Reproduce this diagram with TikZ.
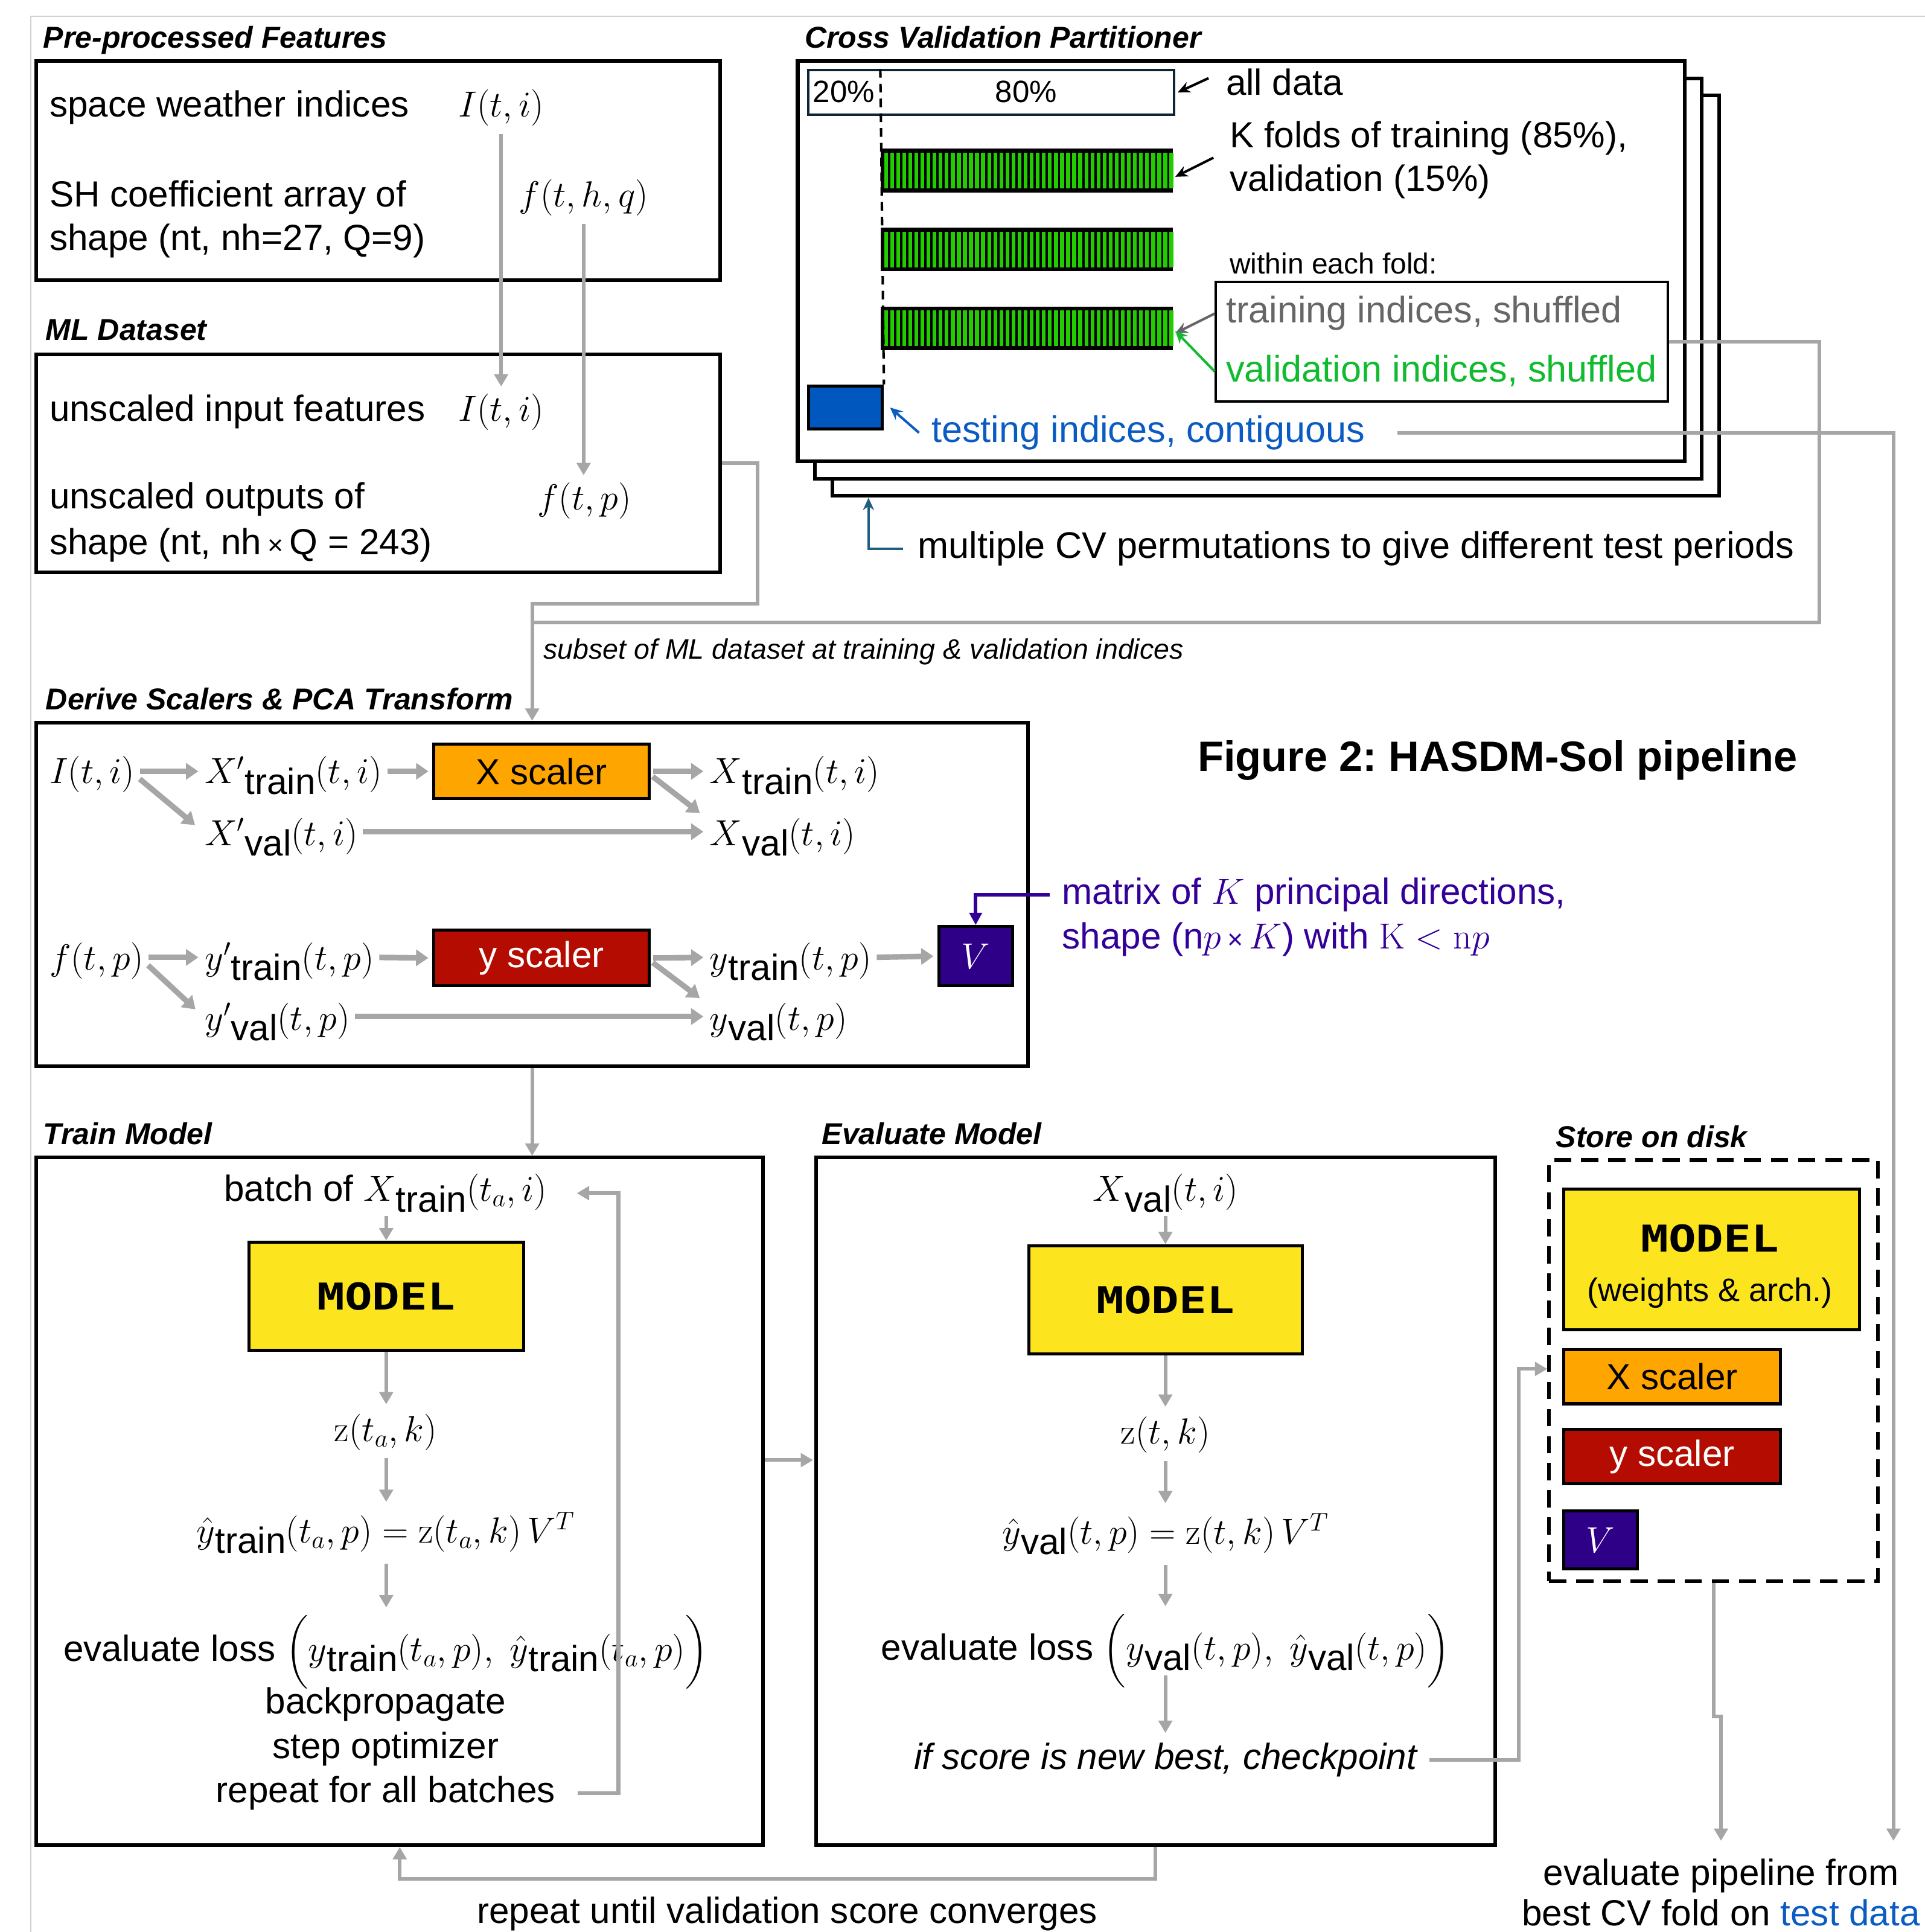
\documentclass[tikz,border=0pt]{standalone}
\usepackage{fix-cm}
\usepackage{amsmath}
\usepackage[no-math]{fontspec}
\usepackage{graphicx}
\setmainfont{Liberation Sans}
\newfontfamily\modelfont{DejaVu Sans Mono}
\usetikzlibrary{arrows.meta}
\frenchspacing
\definecolor{agray}{HTML}{A6A6A6}
\definecolor{xorange}{HTML}{FFA500}
\definecolor{yred}{HTML}{B40C00}
\definecolor{vind}{HTML}{2E0087}
\definecolor{myel}{HTML}{FCE51E}
\definecolor{tblue}{HTML}{0B5CC2}
\definecolor{bbox}{HTML}{0057BD}
\definecolor{vgreen}{HTML}{10BB30}
\definecolor{bargreen}{HTML}{22CC00}
\definecolor{pur}{HTML}{330099}
\definecolor{teal2}{HTML}{1E5F7F}
\definecolor{navy2}{HTML}{0D2533}
\definecolor{tgray}{HTML}{666666}
\newcommand{\fs}[1]{\fontsize{#1}{#1}\selectfont}
\newcommand{\lo}[1]{\raisebox{-0.55ex}{\normalfont #1}}
\newcommand{\mdl}{{\fs{30}\scalebox{1.24}[1]{\modelfont\bfseries MODEL}}}
\newcommand{\greenbar}[2]{%
  \node[draw=black, fill=black, line width=0pt, anchor=north west, inner sep=0pt,
        minimum width=237pt, minimum height=35pt] (#1) at (715,#2) {};
  \foreach \i in {0,...,47}{\fill[bargreen] (717.6+\i*4.93,#2+3) rectangle ++(3.1,29);}
}
\tikzset{
 txt/.style={inner sep=0pt, anchor=base west, font=\fs{29.5}},
 txc/.style={inner sep=0pt, anchor=base, font=\fs{29.5}},
 ttl/.style={inner sep=0pt, anchor=base west, font=\fs{24.5}\bfseries\itshape},
 bigbox/.style={draw=black, line width=3pt, anchor=north west, inner sep=0pt},
 cvbox/.style={bigbox, fill=white, minimum width=720pt, minimum height=325pt},
 fillbox/.style={draw=black, line width=2.5pt, inner sep=0pt, font=\fs{29.5}},
 garr/.style={draw=agray, line width=3pt, -{Triangle[width=11pt,length=10pt]}},
 gline/.style={draw=agray, line width=3pt},
 darr/.style={draw=agray, line width=4.5pt, -{Triangle[width=13pt,length=10pt]}, shorten <=4pt, shorten >=5pt},
 karr/.style={line width=2pt, -{Stealth[width=9pt,length=10pt]}},
}
\begin{document}
\begin{tikzpicture}[x=1pt,y=-1pt]
\useasboundingbox[fill=white] (0,0) rectangle (1562.6,1568);
\draw[black!18, line width=1pt] (25,1568) -- (25,13) -- (1562.6,13);

% ---------------- Pre-processed features
\node[ttl] (tpre) at (35,39) {Pre-processed Features};
\node[bigbox, minimum width=555pt, minimum height=178pt] (pre) at (28,48) {};
\node[txt] (swi) at (40,95) {space weather indices};
\node[txt] (pI) at (372,95) {$I(t,i)$};
\node[txt] (sh1) at (40,168) {SH coefficient array of};
\node[txt] (sh2) at (40,203) {shape (nt, nh=27, Q=9)};
\node[txt] (pf) at (421,168) {$f(t,h,q)$};

% ---------------- ML dataset
\node[ttl] (tml) at (37,276) {ML Dataset};
\node[bigbox, minimum width=555pt, minimum height=177pt] (ml) at (28,286) {};
\node[txt] (uif) at (40,342) {unscaled input features};
\node[txt] (mI) at (372,342) {$I(t,i)$};
\node[txt] (uo1) at (40,413) {unscaled outputs of};
\node[txt] (uo2) at (40,450) {shape (nt, nh\,{\fs{22}×}\,Q = 243)};
\node[txt] (mf) at (436,414) {$f(t,p)$};
\draw[garr, shorten <=6pt, shorten >=6pt] (pI.south) -- (pI.south |- mI.north);
\draw[garr, shorten <=6pt, shorten >=6pt] (pf.south) -- (pf.south |- mf.north);

% ---------------- Cross validation partitioner
\node[ttl] (tcv) at (653,39) {Cross Validation Partitioner};
\node[cvbox] (cv3) at (674,76) {};
\node[cvbox] (cv2) at (660,62) {};
\node[cvbox] (cv1) at (646,48) {};
\node[draw=navy2, line width=2pt, fill=white, anchor=north west, inner sep=0pt,
      minimum width=297pt, minimum height=36pt] (alld) at (655,56) {};
\node[inner sep=0pt, anchor=base, font=\fs{25}] (p20) at (685,83) {20\%};
\node[inner sep=0pt, anchor=base, font=\fs{25}] (p80) at (833,83) {80\%};
\greenbar{gb1}{121}
\greenbar{gb2}{185}
\greenbar{gb3}{249}
\node[draw=black, line width=2.5pt, fill=bbox, anchor=north west, inner sep=0pt,
      minimum width=60pt, minimum height=35pt] (blue) at (655,312) {};
\draw[black, line width=2pt, dash pattern=on 7pt off 5pt] ([xshift=59.6pt]alld.north west) -- (blue.north east);
\node[draw=black, line width=2pt, anchor=north west, inner sep=0pt,
      minimum width=367pt, minimum height=97pt] (fold) at (986,228) {};
\node[txt] (ad) at (995,77) {all data};
\node[txt] (kf1) at (998,120) {K folds of training (85\%),};
\node[txt] (kf2) at (998,155) {validation (15\%)};
\node[txt, font=\fs{23.5}] (wef) at (998,222) {within each fold:};
\node[txt, text=tgray, font=\fs{30}] (tis) at (995,262) {training indices, shuffled};
\node[txt, text=vgreen, font=\fs{30}] (vis) at (995,310) {validation indices, shuffled};
\node[txt, text=tblue, font=\fs{30}] (test) at (756,359) {testing indices, contiguous};
\node[txt, font=\fs{30}] (mcv) at (745,453) {multiple CV permutations to give different test periods};
\coordinate (ka) at (985,128);
\draw[karr] ([xshift=-14pt,yshift=3pt]ad.west) -- ([xshift=2pt]alld.east);
\draw[karr] (ka) -- ([xshift=2pt,yshift=-5pt]gb1.east);
\draw[karr, tgray] ([yshift=23pt]fold.west) -- ([xshift=2pt,yshift=-4pt]gb3.east);
\draw[karr, vgreen] ([yshift=-24pt]fold.west) -- ([xshift=2pt,yshift=-2pt]gb3.east);
\draw[karr, tblue] ([xshift=-10pt]test.west) -- ([xshift=5pt]blue.east);
\draw[teal2, line width=2pt, -{Stealth[width=9pt,length=10pt]}] ([xshift=-12pt]mcv.west) -| ([xshift=31pt]cv3.south west);

% ---------------- connectors to derive
\node[bigbox, minimum width=805pt, minimum height=279pt] (der) at (28,585) {};
\draw[gline] (fold.east) -- ++(122,0) |- (der.north |- 0,505);
\draw[garr] (ml.east) -- ++(29,0) |- (der.north |- 0,490) -- (der.north);
\node[txt, font=\fs{22.8}\itshape] (subs) at (441,535) {subset of ML dataset at training \& validation indices};
\draw[garr, shorten <=26pt] (test.east) -| (1537,1494);

% ---------------- title
\node[inner sep=0pt, anchor=base west, font=\fs{34.5}\bfseries] (fig) at (972,626) {Figure 2: HASDM-Sol pipeline};

% ---------------- Derive scalers
\node[ttl] (tder) at (37,576) {Derive Scalers \& PCA Transform};
\node[txt] (dI) at (40,636) {$I(t,i)$};
\node[txt] (dXtp) at (166,636) {$X'\lo{train}(t,i)$};
\node[fillbox, fill=xorange, minimum width=175pt, minimum height=44pt] (dXs) at (439.5,626) {X scaler};
\node[txt] (dXt) at (576,636) {$X\lo{train}(t,i)$};
\node[txt] (dXvp) at (166,686) {$X'\lo{val}(t,i)$};
\node[txt] (dXv) at (576,686) {$X\lo{val}(t,i)$};
\node[txt] (df) at (40,787) {$f(t,p)$};
\node[txt] (dYtp) at (166,787) {$y'\lo{train}(t,p)$};
\node[fillbox, fill=yred, text=white, minimum width=175pt, minimum height=45pt] (dYs) at (439.5,777.5) {y scaler};
\node[txt] (dYt) at (576,787) {$y\lo{train}(t,p)$};
\node[fillbox, fill=vind, text=white, minimum width=60pt, minimum height=48pt] (dV) at (792,776) {$V$};
\node[txt] (dYvp) at (166,836) {$y'\lo{val}(t,p)$};
\node[txt] (dYv) at (576,836) {$y\lo{val}(t,p)$};
\draw[darr] (dI.east |- 0,626) -- (dXtp.west |- 0,626);
\draw[darr, shorten <=5pt, shorten >=10pt] (dI.east |- 0,629) -- (dXvp.west |- 0,676);
\draw[darr, shorten >=3pt] (dXtp.east |- 0,626) -- (dXs.west);
\draw[darr, shorten <=2pt] (dXs.east) -- (dXt.west |- 0,626);
\draw[darr, shorten <=2pt, shorten >=10pt] (dXs.east |- 0,629) -- (dXv.west |- 0,666);
\draw[darr] (dXvp.east |- 0,675) -- (dXv.west |- 0,675);
\draw[darr] (df.east |- 0,777) -- (dYtp.west |- 0,777);
\draw[darr, shorten <=5pt, shorten >=10pt] (df.east |- 0,780) -- (dYvp.west |- 0,826);
\draw[darr, shorten >=3pt] (dYtp.east |- 0,777) -- (dYs.west);
\draw[darr, shorten <=2pt] (dYs.east) -- (dYt.west |- 0,777);
\draw[darr, shorten <=2pt, shorten >=10pt] (dYs.east |- 0,780) -- (dYv.west |- 0,816);
\draw[darr] (dYvp.east |- 0,825) -- (dYv.west |- 0,825);
\draw[darr, shorten >=3pt] (dYt.east |- 0,777) -- (dV.west);
\node[txt, text=pur] (pm1) at (862,734) {matrix of $K$ principal directions,};
\node[txt, text=pur] (pm2) at (862,770) {shape (n$p$\,{\fs{22}×}\,$K$) with $\mathrm{K} < \mathrm{n}p$};
\draw[pur, line width=3pt, -{Triangle[width=10pt,length=10pt]}] ([xshift=-10pt]pm1.west) -| (dV.north);

% ---------------- Train model
\node[ttl] (ttr) at (35,929) {Train Model};
\node[bigbox, minimum width=590pt, minimum height=558pt] (train) at (28,938) {};
\draw[garr] (der.south) -- (train.north -| der.south);
\node[txc] (batch) at (313,975) {batch of $X\lo{train}(t_a,i)$};
\node[fillbox, fill=myel, minimum width=223pt, minimum height=88pt] (tmod) at (313.5,1052) {\mdl};
\node[txc] (tz) at (313,1170) {$\mathrm{z}(t_a,k)$};
\node[txc] (ty) at (313,1252) {$\hat{y}\lo{train}(t_a,p) = \mathrm{z}(t_a,k)\,V^T$};
\node[txc] (tl) at (313,1348) {evaluate loss \smash[b]{$\Big(y\lo{train}(t_a,p),\;\hat{y}\lo{train}(t_a,p)\Big)$}};
\node[txc] (tb) at (313,1391) {backpropagate};
\node[txc] (ts) at (313,1427) {step optimizer};
\node[txc] (tr) at (313,1463) {repeat for all batches};
\draw[garr, shorten <=3pt] (batch.south -| tmod.north) -- (tmod.north);
\draw[garr, shorten >=8pt] (tmod.south) -- (tmod.south |- tz.north);
\draw[garr, shorten <=6pt, shorten >=8pt] (tz.south -| tmod.south) -- (tmod.south |- ty.north);
\draw[garr, shorten <=8pt, shorten >=6pt] (ty.south -| tmod.south) -- (tmod.south |- tl.north);
\draw[garr, shorten <=18pt, shorten >=24pt] (tr.east) -| (502,1200) |- (batch.east);

% ---------------- Evaluate model
\node[ttl] (tev) at (667,929) {Evaluate Model};
\node[bigbox, minimum width=551pt, minimum height=558pt] (eval) at (661,938) {};
\draw[garr, shorten >=1pt] (train.east |- 0,1185) -- (eval.west |- 0,1185);
\node[txc] (ex) at (946,975) {$X\lo{val}(t,i)$};
\node[fillbox, fill=myel, minimum width=222pt, minimum height=88pt] (emod) at (946,1055) {\mdl};
\node[txc] (ez) at (946,1172) {$\mathrm{z}(t,k)$};
\node[txc] (ey) at (946,1253) {$\hat{y}\lo{val}(t,p) = \mathrm{z}(t,k)\,V^T$};
\node[txc] (el) at (946,1347) {evaluate loss \smash[b]{$\Big(y\lo{val}(t,p),\;\hat{y}\lo{val}(t,p)\Big)$}};
\node[txc, font=\fs{29.5}\itshape] (ec) at (946,1436) {if score is new best, checkpoint};
\draw[garr, shorten <=3pt] (ex.south -| emod.north) -- (emod.north);
\draw[garr, shorten >=8pt] (emod.south) -- (emod.south |- ez.north);
\draw[garr, shorten <=6pt, shorten >=8pt] (ez.south -| emod.south) -- (emod.south |- ey.north);
\draw[garr, shorten <=8pt, shorten >=6pt] (ey.south -| emod.south) -- (emod.south |- el.north);
\draw[garr, shorten <=12pt, shorten >=8pt] (el.south -| emod.south) -- (emod.south |- ec.north);
\draw[garr] (eval.south) -- ++(0,26) -| (train.south);
\node[txc] (rep) at (639,1561) {repeat until validation score converges};

% ---------------- Store on disk
\node[ttl] (tst) at (1263,931) {Store on disk};
\node[draw=black, line width=3pt, dash pattern=on 14pt off 8pt, anchor=north west, inner sep=0pt,
      minimum width=267pt, minimum height=342pt] (store) at (1256,940) {};
\node[fillbox, fill=myel, anchor=north west, minimum width=240pt, minimum height=114pt] (smod) at (1268,964) {};
\node[inner sep=0pt] (smt) at (1388,1005) {\mdl};
\node[inner sep=0pt, anchor=base, font=\fs{26.5}] (smw) at (1388,1056) {(weights \& arch.)};
\node[fillbox, fill=xorange, anchor=north west, minimum width=176pt, minimum height=44pt] (sxs) at (1268,1094) {X scaler};
\node[fillbox, fill=yred, text=white, anchor=north west, minimum width=176pt, minimum height=44pt] (sys) at (1268,1159) {y scaler};
\node[fillbox, fill=vind, text=white, anchor=north west, minimum width=60pt, minimum height=47pt] (sv) at (1268,1225) {$V$};
\draw[garr, shorten <=10pt] (ec.east) -| (1233,1300) |- (store.west |- 0,1111);

\node[txc] (ep1) at (1397,1530) {evaluate pipeline from};
\node[txc] (ep2) at (1397,1563) {best CV fold on \textcolor{tblue}{test data}};
\coordinate (ea) at (1397,1494);
\draw[garr] (store.south) -- ++(0,108) -| (ea);
\end{tikzpicture}
\end{document}
